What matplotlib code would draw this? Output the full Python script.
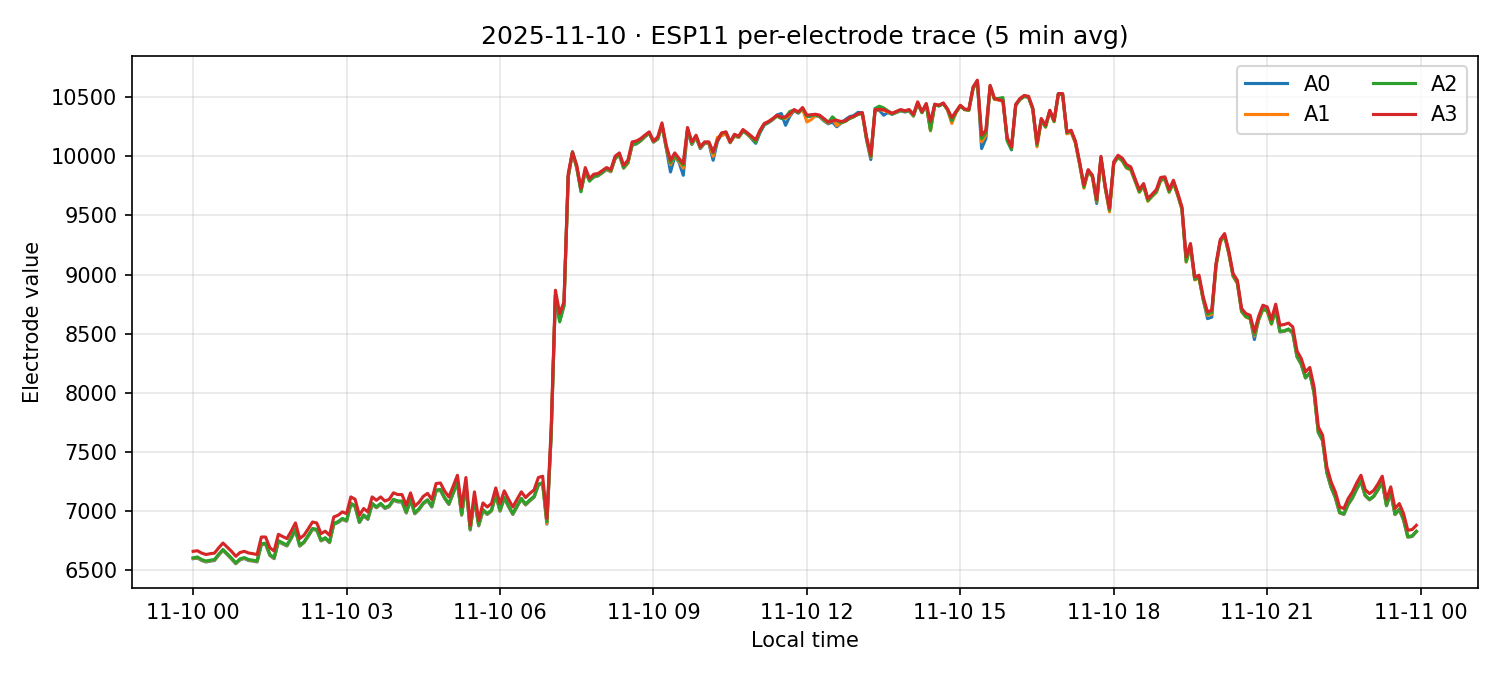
import matplotlib
matplotlib.use("Agg")
import matplotlib.pyplot as plt
import matplotlib.dates as mdates
import pandas as pd

title = "2025-11-10 · ESP11 per-electrode trace (5 min avg)"
start_time = "2025-11-10 00:00"
n_points = 288
series_names = ["A0", "A1", "A2", "A3"]
series_colors = ["#1f77b4", "#ff7f0e", "#2ca02c", "#d62728"]

a3 = [
    6660, 6665, 6645, 6633, 6640, 6645, 6690, 6730, 6695, 6660,
    6618, 6650, 6660, 6646, 6640, 6633, 6781, 6781, 6690, 6663,
    6804, 6785, 6768, 6830, 6900, 6768, 6796, 6850, 6908, 6900,
    6810, 6830, 6796, 6951, 6965, 6993, 6979, 7120, 7100, 6965,
    7022, 6993, 7120, 7092, 7120,
    7085, 7100, 7155, 7140, 7140, 7049, 7154, 7041, 7075, 7125,
    7150, 7098, 7233, 7238, 7170, 7120, 7210, 7303, 7035, 7284,
    6880, 7163, 6923, 7069, 7035, 7064, 7196, 7064, 7171, 7100,
    7035, 7100, 7163, 7115, 7150, 7180, 7284, 7295, 6940,
    7700, 8868, 8671, 8769, 9855, 10037, 9925, 9728, 9905, 9812,
    9849, 9855, 9880, 9905, 9888, 10001, 10029, 9925, 9967, 10122,
    10130, 10150, 10180, 10207, 10130, 10164, 10283, 10094, 9967, 10029,
    9982, 9939, 10244, 10122, 10179, 10080, 10122, 10122, 10037, 10136,
    10198, 10207, 10122,
    10187, 10170, 10227, 10200, 10170, 10140, 10220, 10278, 10295, 10320,
    10348, 10330, 10335, 10360, 10396, 10376, 10413, 10348, 10352, 10356,
    10348, 10320, 10291, 10300, 10305, 10295, 10300, 10328, 10340, 10360,
    10370, 10164, 10009, 10396, 10396, 10396, 10380, 10365, 10380, 10396,
    10385, 10396, 10355, 10461, 10376,
    10447, 10291, 10441, 10432, 10452, 10400, 10328, 10380, 10432, 10400,
    10396, 10587, 10644, 10179, 10221, 10601, 10490, 10480, 10470, 10160,
    10080, 10440, 10489, 10515, 10508, 10410, 10110, 10320, 10263, 10390,
    10305, 10531, 10531, 10207, 10221, 10130, 9950, 9756, 9888, 9840,
    9635, 10000, 9750, 9560,
    9954, 10009, 9985, 9930, 9911, 9812, 9719, 9770, 9643, 9680,
    9719, 9821, 9827, 9719, 9798, 9691, 9572, 9149, 9263, 8980,
    8995, 8811, 8684, 8699, 9094, 9297, 9347, 9200, 9009, 8952,
    8713, 8671, 8656, 8515, 8648, 8741, 8727, 8620,
    8750, 8572, 8578, 8590, 8558, 8355, 8290, 8177, 8215, 8050,
    7712, 7642, 7374, 7247, 7162, 7035, 7022, 7106, 7162, 7238,
    7303, 7182, 7148, 7175, 7230, 7295, 7098, 7205, 7022, 7064,
    6979, 6838, 6844, 6880,
]

a2 = [
    6605, 6612, 6590, 6578, 6585, 6590, 6636, 6676, 6640, 6603,
    6562, 6596, 6607, 6590, 6585, 6578, 6725, 6728, 6633, 6606,
    6750, 6731, 6713, 6776, 6846, 6712, 6740, 6795, 6853, 6846,
    6755, 6775, 6740, 6897, 6911, 6938, 6922, 7066, 7045, 6910,
    6968, 6937, 7066, 7036, 7065,
    7030, 7046, 7100, 7086, 7085, 6992, 7100, 6985, 7020, 7070,
    7096, 7042, 7178, 7184, 7115, 7064, 7155, 7248, 6975, 7228,
    6850, 7108, 6885, 7013, 6980, 7009, 7141, 7008, 7117, 7045,
    6980, 7045, 7108, 7060, 7095, 7125, 7228, 7240, 6910,
    7650, 8830, 8600, 8740, 9830, 10040, 9910, 9700, 9880, 9790,
    9830, 9840, 9865, 9895, 9878, 9985, 10020, 9905, 9950, 10100,
    10110, 10135, 10170, 10200, 10125, 10150, 10265, 10080, 9945, 10010,
    9965, 9925, 10230, 10110, 10170, 10075, 10118, 10118, 10030, 10130,
    10195, 10205, 10120,
    10175, 10165, 10215, 10190, 10160, 10120, 10210, 10270, 10290, 10315,
    10340, 10320, 10330, 10380, 10390, 10370, 10405, 10340, 10345, 10350,
    10340, 10310, 10285, 10334, 10300, 10285, 10295, 10320, 10335, 10355,
    10365, 10150, 9995, 10405, 10424, 10410, 10385, 10360, 10375, 10390,
    10380, 10390, 10345, 10450, 10370,
    10440, 10221, 10435, 10425, 10445, 10395, 10300, 10372, 10425, 10395,
    10390, 10575, 10630, 10150, 10200, 10590, 10485, 10490, 10497, 10130,
    10060, 10430, 10480, 10505, 10500, 10400, 10095, 10305, 10250, 10380,
    10295, 10525, 10525, 10200, 10215, 10120, 9940, 9740, 9875, 9830,
    9620, 9985, 9735, 9545,
    9940, 9995, 9965, 9905, 9890, 9795, 9700, 9752, 9625, 9665,
    9700, 9800, 9810, 9700, 9780, 9675, 9555, 9110, 9245, 8960,
    8975, 8790, 8665, 8680, 9075, 9280, 9330, 9180, 8990, 8930,
    8690, 8645, 8630, 8490, 8620, 8710, 8695, 8585,
    8705, 8520, 8525, 8540, 8510, 8310, 8245, 8130, 8170, 8005,
    7670, 7600, 7330, 7205, 7118, 6990, 6978, 7060, 7115, 7190,
    7255, 7135, 7100, 7128, 7185, 7250, 7050, 7160, 6975, 7018,
    6930, 6785, 6790, 6830,
]

a0 = [
    6598, 6603, 6583, 6570, 6577, 6582, 6628, 6668, 6632, 6595,
    6555, 6588, 6600, 6582, 6578, 6570, 6717, 6720, 6625, 6598,
    6742, 6724, 6705, 6768, 6838, 6704, 6733, 6787, 6845, 6838,
    6748, 6767, 6733, 6889, 6903, 6930, 6915, 7058, 7037, 6903,
    6960, 6930, 7058, 7028, 7058,
    7022, 7038, 7092, 7078, 7077, 6984, 7092, 6977, 7012, 7062,
    7088, 7034, 7170, 7176, 7107, 7056, 7147, 7240, 6965, 7220,
    6840, 7100, 6875, 7005, 6972, 7001, 7133, 7000, 7109, 7037,
    6972, 7037, 7100, 7052, 7087, 7117, 7220, 7232, 6890,
    7640, 8820, 8610, 8735, 9825, 10030, 9905, 9710, 9875, 9795,
    9825, 9835, 9860, 9890, 9870, 9980, 10010, 9900, 9945, 10095,
    10105, 10130, 10165, 10195, 10120, 10145, 10260, 10070, 9868, 10000,
    9950, 9840, 10220, 10100, 10160, 10065, 10110, 10110, 9967, 10125,
    10190, 10200, 10115,
    10180, 10160, 10210, 10195, 10150, 10110, 10200, 10265, 10285, 10310,
    10350, 10362, 10263, 10340, 10385, 10365, 10400, 10335, 10340, 10345,
    10335, 10300, 10275, 10290, 10250, 10280, 10310, 10335, 10345, 10372,
    10368, 10140, 9973, 10390, 10390, 10348, 10370, 10355, 10370, 10385,
    10375, 10385, 10340, 10445, 10370,
    10440, 10230, 10440, 10430, 10448, 10398, 10310, 10375, 10428, 10398,
    10392, 10580, 10638, 10066, 10151, 10595, 10488, 10478, 10465, 10140,
    10055, 10435, 10485, 10510, 10502, 10402, 10100, 10310, 10255, 10385,
    10300, 10528, 10528, 10195, 10210, 10118, 9935, 9745, 9880, 9835,
    9601, 9990, 9740, 9548,
    9945, 10000, 9975, 9915, 9895, 9800, 9705, 9760, 9630, 9668,
    9705, 9805, 9815, 9705, 9785, 9680, 9560, 9120, 9250, 8965,
    8980, 8790, 8628, 8640, 9080, 9285, 9335, 9185, 8992, 8935,
    8695, 8650, 8635, 8451, 8625, 8715, 8700, 8590,
    8700, 8515, 8520, 8535, 8505, 8305, 8240, 8125, 8165, 8000,
    7665, 7595, 7325, 7200, 7112, 6985, 6972, 7055, 7110, 7185,
    7250, 7130, 7095, 7122, 7180, 7245, 7045, 7155, 6970, 7012,
    6925, 6780, 6785, 6825,
]

a1 = [
    6601, 6607, 6586, 6574, 6581, 6586, 6631, 6672, 6636, 6598,
    6558, 6592, 6603, 6586, 6581, 6574, 6721, 6724, 6629, 6602,
    6746, 6727, 6709, 6772, 6842, 6708, 6736, 6791, 6849, 6842,
    6751, 6771, 6736, 6893, 6907, 6934, 6918, 7062, 7041, 6906,
    6964, 6933, 7062, 7032, 7061,
    7026, 7042, 7096, 7082, 7081, 6988, 7096, 6981, 7016, 7066,
    7092, 7038, 7174, 7180, 7111, 7060, 7151, 7244, 6970, 7224,
    6845, 7104, 6880, 7009, 6976, 7005, 7137, 7004, 7113, 7041,
    6976, 7041, 7104, 7056, 7091, 7121, 7224, 7236, 6895,
    7645, 8825, 8615, 8738, 9828, 10032, 9900, 9715, 9870, 9800,
    9828, 9838, 9862, 9892, 9872, 9982, 10015, 9902, 9940, 10098,
    10108, 10132, 10168, 10198, 10122, 10148, 10262, 10075, 9930, 10005,
    9955, 9900, 10225, 10105, 10165, 10070, 10115, 10112, 10000, 10160,
    10175, 10190, 10118,
    10170, 10160, 10220, 10185, 10155, 10125, 10215, 10270, 10290, 10312,
    10345, 10330, 10320, 10350, 10390, 10370, 10400, 10291, 10310, 10345,
    10338, 10305, 10280, 10320, 10260, 10282, 10298, 10318, 10335, 10355,
    10362, 10145, 9990, 10390, 10395, 10390, 10375, 10360, 10372, 10388,
    10380, 10390, 10342, 10452, 10372,
    10438, 10215, 10436, 10428, 10446, 10392, 10278, 10370, 10426, 10396,
    10388, 10570, 10635, 10122, 10180, 10592, 10482, 10476, 10468, 10145,
    10065, 10432, 10482, 10508, 10500, 10398, 10080, 10300, 10245, 10382,
    10292, 10522, 10522, 10190, 10205, 10112, 9930, 9730, 9870, 9825,
    9615, 9980, 9730, 9530,
    9938, 9990, 9960, 9900, 9885, 9790, 9695, 9748, 9620, 9660,
    9695, 9795, 9805, 9695, 9775, 9670, 9550, 9105, 9240, 8955,
    8970, 8785, 8655, 8665, 9070, 9275, 9325, 9175, 8985, 8925,
    8685, 8640, 8625, 8480, 8615, 8705, 8690, 8580,
    8702, 8518, 8522, 8538, 8508, 8308, 8242, 8128, 8168, 8002,
    7668, 7598, 7328, 7202, 7115, 6987, 6975, 7058, 7112, 7188,
    7252, 7132, 7098, 7125, 7182, 7248, 7048, 7158, 6972, 7015,
    6928, 6782, 6788, 6828,
]

times = pd.date_range(start_time, periods=n_points, freq="5min")
series = [a0, a1, a2, a3]
print([len(s) for s in series])

fig = plt.figure(figsize=(10, 4.5), dpi=150)
ax = fig.add_axes([0.088, 0.129, 0.897, 0.788])
for name, vals, col in zip(series_names, series, series_colors):
    ax.plot(times[:len(vals)], vals, color=col, linewidth=1.5, label=name)

ax.set_title(title, fontsize=12)
ax.set_xlabel("Local time")
ax.set_ylabel("Electrode value")
ax.grid(True, alpha=0.3)
ax.xaxis.set_major_locator(mdates.HourLocator(byhour=range(0, 24, 3)))
ax.xaxis.set_major_formatter(mdates.DateFormatter("%m-%d %H"))
ax.legend(loc="upper right", ncol=2)

fig.savefig("out.png", dpi=150)
